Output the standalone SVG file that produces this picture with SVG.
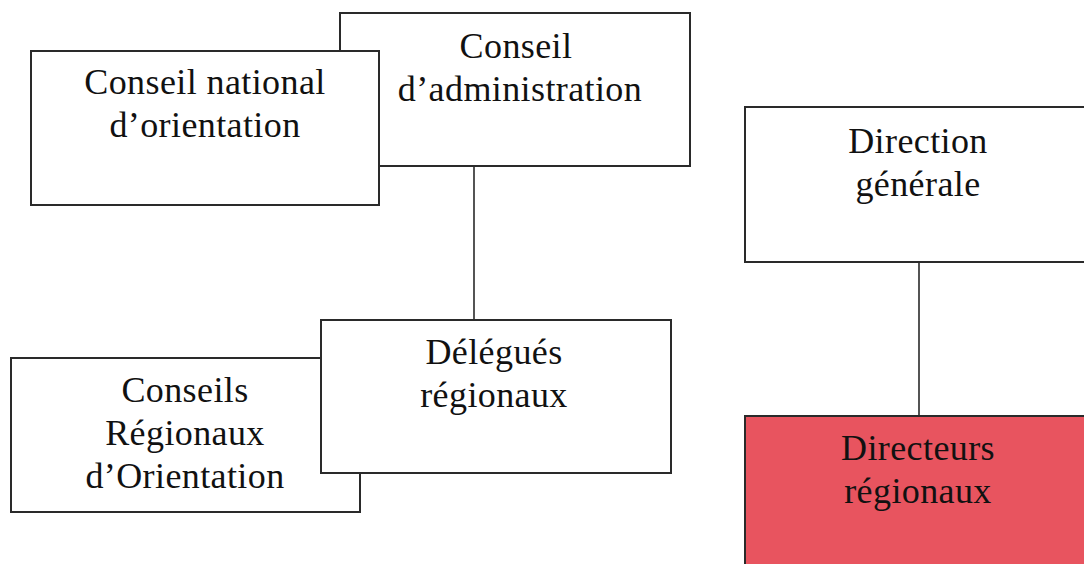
<svg xmlns="http://www.w3.org/2000/svg" width="1084" height="564" viewBox="0 0 1084 564">
<style>
.box{fill:#fff;stroke:#2a2a2a;stroke-width:2}
.red{fill:#e8545f;stroke:#2a2a2a;stroke-width:2}
.t{font-family:"Liberation Serif","Times New Roman",serif;font-size:36px;letter-spacing:0.4px;fill:#111;text-anchor:middle}
.c{stroke:#2a2a2a;stroke-width:1.6;fill:none}
</style>
<rect width="1084" height="564" fill="#fff"/>
<g id="connectors">
<line class="c" x1="474" y1="166" x2="474" y2="320"/>
<line class="c" x1="919" y1="262" x2="919" y2="416"/>
</g>
<g id="conseil-administration">
<rect class="box" x="340" y="13" width="350" height="153"/>
<text class="t" x="516" y="58">Conseil</text>
<text class="t" x="520" y="101">d’administration</text>
</g>
<g id="conseil-national">
<rect class="box" x="31" y="51" width="348" height="154"/>
<text class="t" x="205" y="94">Conseil national</text>
<text class="t" x="205" y="137">d’orientation</text>
</g>
<g id="conseils-regionaux">
<rect class="box" x="11" y="358" width="349" height="154"/>
<text class="t" x="185" y="402">Conseils</text>
<text class="t" x="185" y="445">Régionaux</text>
<text class="t" x="185" y="488">d’Orientation</text>
</g>
<g id="delegues-regionaux">
<rect class="box" x="321" y="320" width="350" height="153"/>
<text class="t" x="494" y="364">Délégués</text>
<text class="t" x="494" y="407">régionaux</text>
</g>
<g id="direction-generale">
<rect class="box" x="745" y="107" width="350" height="155"/>
<text class="t" x="918" y="153">Direction</text>
<text class="t" x="918" y="196">générale</text>
</g>
<g id="directeurs-regionaux">
<rect class="red" x="745" y="416" width="350" height="160"/>
<text class="t" x="918" y="460">Directeurs</text>
<text class="t" x="918" y="503">régionaux</text>
</g>
</svg>
